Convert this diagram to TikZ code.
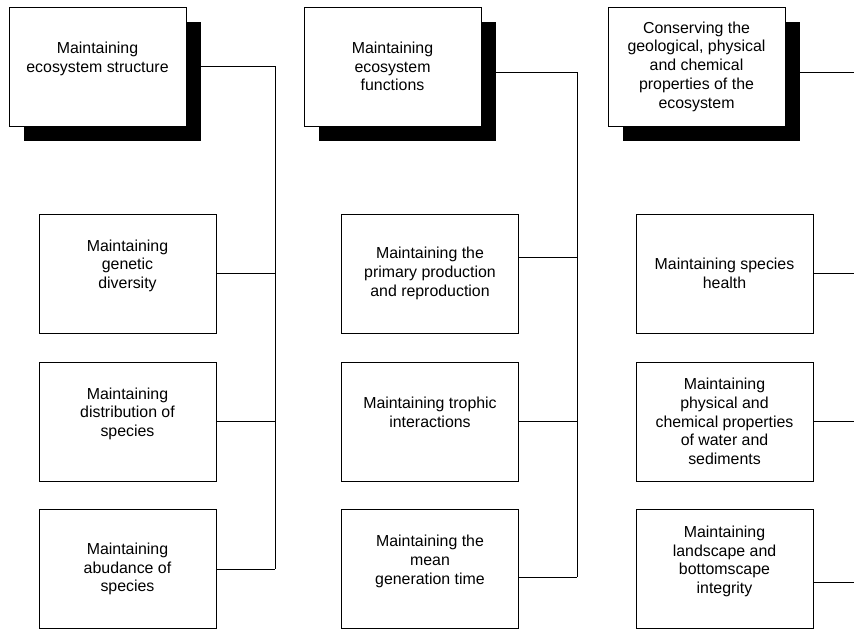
\documentclass[tikz,border=0pt]{standalone}
\usepackage{fontspec}
\setmainfont{Liberation Sans}
\usetikzlibrary{shadows}

\tikzset{
	goalbox/.style={draw=black, line width=0.8pt, fill=white, minimum width=177pt, minimum height=119pt, inner sep=0pt, align=center, font=\fontsize{15.9}{18.7}\selectfont},
	headbox/.style={goalbox, drop shadow={shadow xshift=15pt, shadow yshift=-15pt, fill=black, opacity=1}},
	link/.style={draw=black, line width=0.8pt}
}

\begin{document}
\begin{tikzpicture}[x=1pt, y=-1pt]
				\useasboundingbox (0,0) rectangle (854,629);
				
				\node[headbox] (top1) at (97.5,66.5) {Maintaining\\ecosystem structure\\~};
				\node[headbox] (top2) at (392.5,66.5) {Maintaining\\ecosystem\\functions};
				\node[headbox] (top3) at (696.5,66.5) {Conserving the\\geological, physical\\and chemical\\properties of the\\ecosystem};
				
				\node[goalbox] (s11) at (127.5,273.5) {Maintaining\\genetic\\diversity\\~};
				\node[goalbox] (s12) at (127.5,421.5) {Maintaining\\distribution of\\species\\~};
				\node[goalbox] (s13) at (127.5,569) {Maintaining\\abudance of\\species};
				
				\node[goalbox] (s21) at (430,273.5) {Maintaining the\\primary production\\and reproduction};
				\node[goalbox] (s22) at (430,421.5) {Maintaining trophic\\interactions\\~};
				\node[goalbox] (s23) at (430,569) {Maintaining the\\mean\\generation time\\~};
				
				\node[goalbox] (s31) at (724.5,273.5) {Maintaining species\\health};
				\node[goalbox] (s32) at (724.5,421.5) {Maintaining\\physical and\\chemical properties\\of water and\\sediments};
				\node[goalbox] (s33) at (724.5,569) {Maintaining\\landscape and\\bottomscape\\integrity\\~};
				
				\coordinate (bus1) at (275,569);
				\coordinate (bus2) at (577,577);
				\coordinate (edge) at (854,0);
				
				\coordinate (t1) at ([xshift=15pt]top1.east);
				\coordinate (t2) at ([xshift=15pt,yshift=-5.5pt]top2.east);
				\coordinate (t3) at ([xshift=15pt,yshift=-5.5pt]top3.east);
				\coordinate (c21) at ([yshift=16.5pt]s21.east);
				\coordinate (c23) at ([yshift=-8pt]s23.east);
				\coordinate (c33) at ([yshift=-13pt]s33.east);
				
				\draw[link] (t1) -| (bus1);
				\draw[link] (s11.east) -- (s11.east -| bus1);
				\draw[link] (s12.east) -- (s12.east -| bus1);
				\draw[link] (s13.east) -- (bus1);
				
				\draw[link] (t2) -| (bus2);
				\draw[link] (c21) -- (c21 -| bus2);
				\draw[link] (s22.east) -- (s22.east -| bus2);
				\draw[link] (c23) -- (bus2);
				
				\draw[link] (t3) -- (t3 -| edge);
				\draw[link] (s31.east) -- (s31.east -| edge);
				\draw[link] (s32.east) -- (s32.east -| edge);
				\draw[link] (c33) -- (c33 -| edge);
			\end{tikzpicture}
\end{document}
